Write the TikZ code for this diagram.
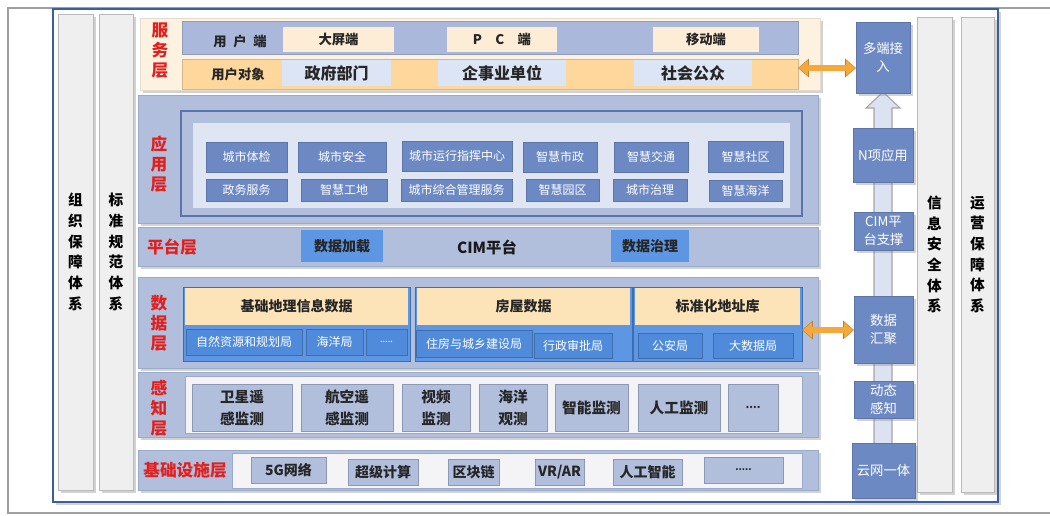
\documentclass[tikz,border=0pt]{standalone}
\usepackage{fontspec}
\setmainfont{Noto Sans CJK SC}
\usetikzlibrary{arrows.meta,shadows}
\definecolor{frameblue}{HTML}{3A5E9F}
\definecolor{layerbg}{HTML}{B1BFDD}
\definecolor{layerbd}{HTML}{9AAACB}
\definecolor{creambg}{HTML}{FDF1E0}
\definecolor{rowblue}{HTML}{AAB8DC}
\definecolor{roworange}{HTML}{FDD79C}
\definecolor{creambox}{HTML}{FDEDD6}
\definecolor{paleblue}{HTML}{DCE5F5}
\definecolor{appblue}{HTML}{6D89C3}
\definecolor{appinner}{HTML}{DFE5F3}
\definecolor{brightblue}{HTML}{5D96E2}
\definecolor{subblue}{HTML}{4F8ADB}
\definecolor{peach}{HTML}{FDE4B8}
\definecolor{lblred}{HTML}{E0201E}
\definecolor{whitearea}{HTML}{F4F4F6}
\definecolor{colfill}{HTML}{EFEFEF}
\definecolor{barfill}{HTML}{DCE2F2}
\definecolor{oarrow}{HTML}{F6A83A}
\newcommand\mkbox[7]{\node[#1,minimum width={(#4-#2)*0.75pt},minimum height={(#5-#3)*0.75pt}] (#6) at ({(#2+#4)/2},{(#3+#5)/2}) {#7};}
\begin{document}
\begin{tikzpicture}[x=0.75pt,y=-0.75pt,
  base/.style={inner sep=1pt,outer sep=0pt,align=center},
  shad/.style={drop shadow={shadow xshift=2pt,shadow yshift=-2pt,opacity=0.35}},
  mainframe/.style={base,draw=frameblue,line width=2.2pt,fill=white,shad},
  colbox/.style={base,fill=colfill,draw=gray!55,line width=0.6pt,shad,font=\bfseries\fontsize{11}{15.5}\selectfont},
  layer/.style={base,fill=layerbg,draw=layerbd,line width=0.6pt,shad},
  svcbg/.style={base,fill=creambg,draw=creambg!80!gray,line width=0.4pt,shad},
  rowb/.style={base,fill=rowblue,draw=rowblue!85!black,line width=0.4pt},
  rowo/.style={base,fill=roworange,draw=roworange!85!black,line width=0.4pt},
  svctext/.style={base,font=\bfseries\fontsize{10}{12}\selectfont,text=black!85},
  creamb/.style={base,fill=creambox,font=\bfseries\fontsize{10}{12}\selectfont,text=black!85},
  paleb/.style={base,fill=paleblue,font=\bfseries\fontsize{12}{14}\selectfont,text=black!85},
  redlbl/.style={base,text=lblred,font=\bfseries\fontsize{12.5}{15}\selectfont},
  appframe/.style={base,fill=layerbg,draw=frameblue!85,line width=1.2pt},
  appin/.style={base,fill=appinner},
  appbox/.style={base,fill=appblue,draw=appblue!85!black,line width=0.3pt,text=white,font=\fontsize{9}{11}\selectfont},
  bluebtn/.style={base,fill=brightblue,text=black!85,font=\bfseries\fontsize{10.5}{12}\selectfont},
  cimtext/.style={base,text=black!90,font=\bfseries\fontsize{11.5}{13}\selectfont},
  grp/.style={base,fill=brightblue,draw=subblue!80!black,line width=0.5pt},
  hdr/.style={base,fill=peach,text=black!85,font=\bfseries\fontsize{10.5}{12}\selectfont},
  subb/.style={base,fill=subblue,draw=subblue!80!black,line width=0.4pt,text=white,font=\fontsize{9}{11}\selectfont},
  warea/.style={base,fill=whitearea,draw=layerbd,line width=0.5pt},
  sensebox/.style={base,fill=layerbg,draw=layerbd!90!black,line width=0.5pt,text=black!85,font=\bfseries\fontsize{11}{16.5}\selectfont},
  infrabox/.style={base,fill=layerbg,draw=layerbd!90!black,line width=0.5pt,text=black!85,font=\bfseries\fontsize{10.5}{12}\selectfont},
  dots/.style={font=\fontsize{8}{10}\selectfont,text=black!70},
  chain/.style={base,fill=appblue,draw=appblue!85!black,line width=0.3pt,text=white,shad,font=\fontsize{10}{14}\selectfont},
  dblout/.style={draw=oarrow!75!black,line width=5.2pt,{Triangle[length=8.2pt,width=13.6pt]}-{Triangle[length=8.2pt,width=13.6pt]}},
  dblarrow/.style={draw=oarrow,line width=3.8pt,{Triangle[length=7pt,width=11.4pt]}-{Triangle[length=7pt,width=11.4pt]},shorten <=0.5pt,shorten >=0.5pt}
]
\useasboundingbox (0,0) rectangle (1050,515);
% page border
\draw[gray!75,line width=0.8pt] (1050,8) -- (8,8) -- (8,513) -- (1050,513);
% main frame
\mkbox{mainframe}{53}{9}{998}{502}{frame}{}
% side columns
\mkbox{colbox}{58}{14}{93}{490}{c1}{组\\织\\保\\障\\体\\系}
\mkbox{colbox}{99}{14}{133}{490}{c2}{标\\准\\规\\范\\体\\系}
\mkbox{colbox}{917}{17}{952}{492}{c3}{信\\息\\安\\全\\体\\系}
\mkbox{colbox}{961}{17}{994}{492}{c4}{运\\营\\保\\障\\体\\系}
% ===== service layer
\mkbox{svcbg}{140}{18}{820}{90}{svc}{}
\mkbox{rowb}{182}{21}{798}{54}{row1}{}
\mkbox{rowo}{182}{59}{798}{89}{row2}{}
\node[redlbl] (lsvc) at (160,51) {服\\务\\层};
\node[svctext] (ud) at (240,41) {用\hspace{0.5em}户\hspace{0.5em}端};
\mkbox{creamb}{283}{27}{394}{52}{dp}{大屏端}
\mkbox{creamb}{447}{27}{557}{52}{pc}{P\hspace{1em}C\hspace{1em}端}
\mkbox{creamb}{653}{27}{759}{52}{yd}{移动端}
\node[svctext] (ux) at (238,74) {用户对象};
\mkbox{paleb}{282}{60}{391}{86}{zf}{政府部门}
\mkbox{paleb}{438}{60}{566}{86}{qs}{企事业单位}
\mkbox{paleb}{634}{60}{752}{86}{sh}{社会公众}
% ===== application layer
\mkbox{layer}{138}{95}{818}{223}{app}{}
\mkbox{appframe}{181}{111}{802}{216}{appf}{}
\mkbox{appin}{193}{123}{790}{208}{appi}{}
\node[redlbl] (lapp) at (159,164) {应\\用\\层};
\mkbox{appbox}{206}{142}{287}{172}{a1}{城市体检}
\mkbox{appbox}{298}{142}{386}{172}{a2}{城市安全}
\mkbox{appbox}{402}{141}{512}{171}{a3}{城市运行指挥中心}
\mkbox{appbox}{523}{142}{597}{172}{a4}{智慧市政}
\mkbox{appbox}{614}{142}{688}{172}{a5}{智慧交通}
\mkbox{appbox}{708}{141}{783}{172}{a6}{智慧社区}
\mkbox{appbox}{206}{179}{287}{201}{b1}{政务服务}
\mkbox{appbox}{301}{179}{387}{201}{b2}{智慧工地}
\mkbox{appbox}{401}{179}{512}{201}{b3}{城市综合管理服务}
\mkbox{appbox}{526}{179}{599}{201}{b4}{智慧园区}
\mkbox{appbox}{613}{179}{687}{201}{b5}{城市治理}
\mkbox{appbox}{709}{180}{782}{201}{b6}{智慧海洋}
% ===== platform layer
\mkbox{layer}{138}{227}{818}{266}{plat}{}
\node[redlbl] (lplat) at (172,247) {平台层};
\mkbox{bluebtn}{301}{230}{383}{262}{sjjz}{数据加载}
\node[cimtext] (cim) at (487,247) {CIM平台};
\mkbox{bluebtn}{611}{230}{689}{262}{sjzl}{数据治理}
% ===== data layer
\mkbox{layer}{138}{277}{818}{368}{data}{}
\node[redlbl] (ldata) at (159,323) {数\\据\\层};
\mkbox{grp}{183}{287}{410}{361}{g1}{}
\mkbox{hdr}{185}{288}{408}{325}{h1}{基础地理信息数据}
\mkbox{subb}{186}{329}{302}{355}{s11}{自然资源和规划局}
\mkbox{subb}{306}{329}{363}{355}{s12}{海洋局}
\mkbox{subb}{366}{329}{407}{355}{s13}{\fontsize{7}{9}\selectfont.....}
\mkbox{grp}{415}{287}{632}{361}{g2}{}
\mkbox{hdr}{417}{288}{630}{325}{h2}{房屋数据}
\mkbox{subb}{416}{330}{532}{357}{s21}{住房与城乡建设局}
\mkbox{subb}{534}{333}{612}{358}{s22}{行政审批局}
\mkbox{grp}{633}{287}{802}{361}{g3}{}
\mkbox{hdr}{635}{288}{800}{325}{h3}{标准化地址库}
\mkbox{subb}{638}{333}{702}{358}{s31}{公安局}
\mkbox{subb}{713}{333}{793}{358}{s32}{大数据局}
% ===== sensing layer
\mkbox{layer}{138}{372}{818}{437}{sense}{}
\mkbox{warea}{185}{376}{802}{433}{sensew}{}
\node[redlbl] (lsense) at (159,408) {感\\知\\层};
\mkbox{sensebox}{192}{384}{292}{431}{p1}{卫星遥\\感监测}
\mkbox{sensebox}{301}{384}{393}{431}{p2}{航空遥\\感监测}
\mkbox{sensebox}{402}{384}{470}{431}{p3}{视频\\监测}
\mkbox{sensebox}{479}{384}{547}{431}{p4}{海洋\\观测}
\mkbox{sensebox}{555}{384}{628}{431}{p5}{智能监测}
\mkbox{sensebox}{638}{384}{720}{431}{p6}{人工监测}
\mkbox{sensebox}{728}{384}{778}{431}{p7}{\fontsize{8}{10}\selectfont....}
% ===== infrastructure layer
\mkbox{layer}{138}{450}{818}{490}{infra}{}
\mkbox{warea}{232}{453}{802}{488}{infraw}{}
\node[redlbl] (linfra) at (185,470) {基础设施层};
\mkbox{infrabox}{251}{457}{326}{483}{i1}{5G网络}
\mkbox{infrabox}{348}{459}{418}{485}{i2}{超级计算}
\mkbox{infrabox}{448}{459}{499}{485}{i3}{区块链}
\mkbox{infrabox}{535}{459}{584}{485}{i4}{VR/AR}
\mkbox{infrabox}{613}{459}{682}{485}{i5}{人工智能}
\mkbox{infrabox}{704}{457}{783}{483}{i6}{\fontsize{7}{9}\selectfont.....}
% ===== right chain
\filldraw[fill=barfill,draw=gray!70,line width=0.8pt] (874,496) -- (874,108) -- (866,108) -- (883,92) -- (900,108) -- (892,108) -- (892,496) -- cycle;
\mkbox{chain}{856}{22}{910}{93}{duo}{多端接\\入}
\mkbox{chain}{853}{128}{913}{182}{nx}{N项应用}
\mkbox{chain}{854}{212}{913}{250}{cimz}{CIM平\\台支撑}
\mkbox{chain}{854}{296}{913}{363}{hj}{数据\\汇聚}
\mkbox{chain}{854}{381}{913}{418}{dt}{动态\\感知}
\mkbox{chain}{852}{443}{915}{498}{yw}{云网一体}
% ===== double arrows
\draw[dblout] ([yshift=4.5pt]row2.east) -- ([yshift=4.5pt]row2.east -| duo.west);
\draw[dblarrow] ([yshift=4.5pt]row2.east) -- ([yshift=4.5pt]row2.east -| duo.west);
\draw[dblout] ([yshift=-4.5pt]g3.east) -- ([yshift=-4.5pt]g3.east -| hj.west);
\draw[dblarrow] ([yshift=-4.5pt]g3.east) -- ([yshift=-4.5pt]g3.east -| hj.west);
\end{tikzpicture}
\end{document}
